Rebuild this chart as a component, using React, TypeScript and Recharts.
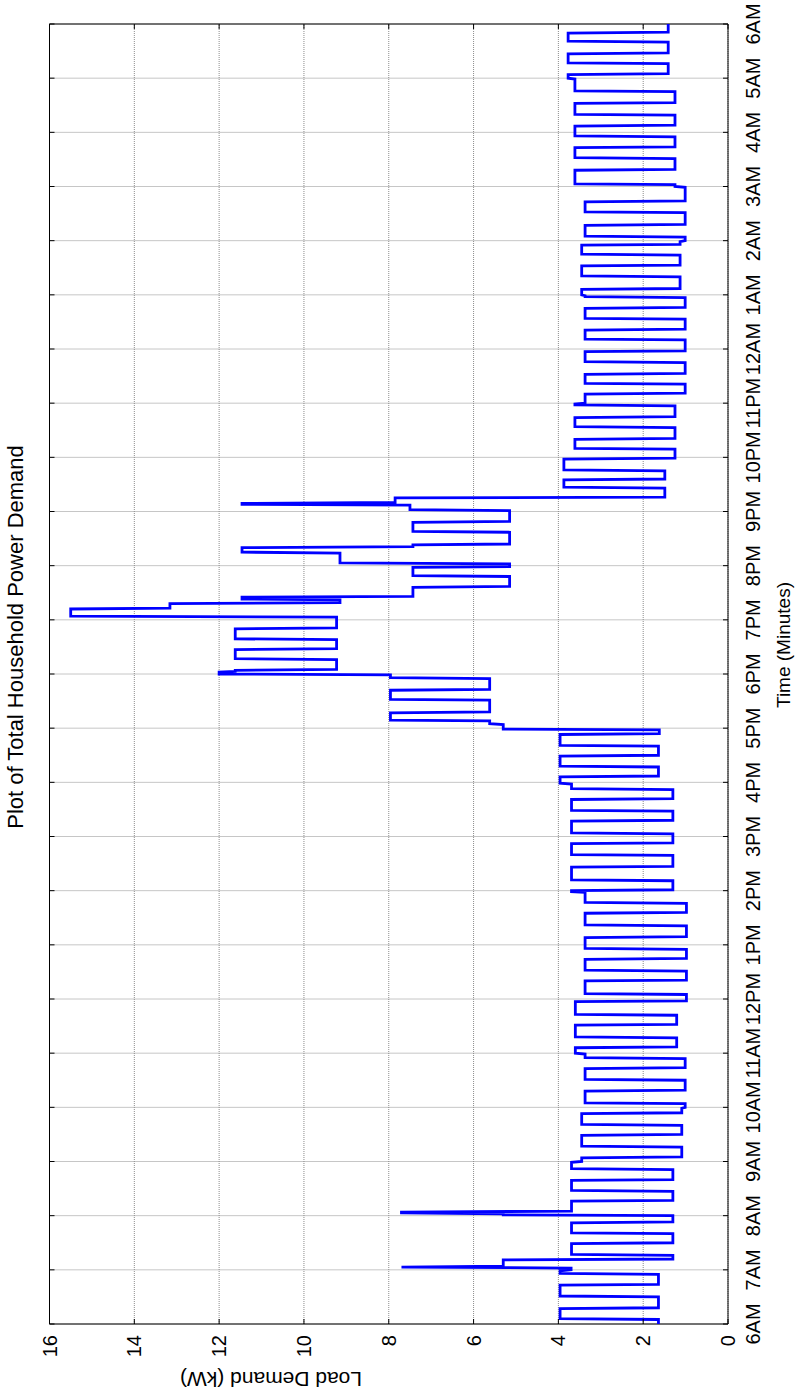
import React from 'react';
import { LineChart, Line, XAxis, YAxis, CartesianGrid, ReferenceArea } from 'recharts';

// Chart is laid out landscape (time across), then turned a quarter turn counter-clockwise.
const CHART_W = 1397;
const CHART_H = 798;
const PLOT_LEFT = 73;
const PLOT_RIGHT = 1373;
const PLOT_TOP = 49.5;
const PLOT_BOTTOM = 728;
const FONT = '"Liberation Sans", Arial, Helvetica, sans-serif';

const hourLabels = [
  '6AM', '7AM', '8AM', '9AM', '10AM', '11AM', '12PM', '1PM', '2PM', '3PM', '4PM', '5PM',
  '6PM', '7PM', '8PM', '9PM', '10PM', '11PM', '12AM', '1AM', '2AM', '3AM', '4AM', '5AM', '6AM',
];
const hourTicks = hourLabels.map((_, i) => i * 60);
const loadTicks = [0, 2, 4, 6, 8, 10, 12, 14, 16];

// Demand steps: minute (from 6AM) at which each level starts, and the level in kW.
const stepMinute = [
  0, 6, 18, 31, 44, 56, 60, 63, 64, 72, 77, 90, 101, 113, 121, 123, 125, 137, 148, 160,
  172, 180, 185, 197, 210, 221, 234, 240, 245, 259, 271, 284, 295, 300, 307, 318, 332, 343, 358, 366,
  381, 392, 405, 416, 429, 442, 456, 467, 479, 481, 492, 507, 520, 533, 544, 558, 569, 582, 593, 599,
  607, 618, 630, 641, 654, 659, 665, 669, 678, 692, 703, 716, 720, 723, 725, 737, 748, 759, 771, 784,
  793, 799, 803, 806, 817, 829, 839, 843, 855, 861, 864, 878, 889, 902, 908, 910, 916, 927, 936, 946,
  959, 970, 981, 994, 1005, 1018, 1020, 1031, 1042, 1053, 1066, 1078, 1091, 1102, 1114, 1126, 1138, 1140, 1147, 1161,
  1173, 1185, 1196, 1200, 1205, 1218, 1232, 1244, 1260, 1263, 1279, 1292, 1304, 1316, 1328, 1340, 1353, 1366, 1380, 1385,
  1397, 1408, 1421, 1431,
];
const stepLoad = [
  1.64, 3.96, 1.64, 3.96, 1.64, 3.96, 3.7, 7.7, 5.3, 1.3, 3.69, 1.3, 3.69, 1.3, 5.3, 7.7, 3.69, 1.3, 3.69, 1.3,
  3.69, 3.45, 1.09, 3.45, 1.09, 3.45, 1.09, 1.01, 3.37, 1.01, 3.37, 1.01, 3.37, 3.6, 1.21, 3.6, 1.21, 3.6, 0.98, 3.37,
  0.98, 3.37, 0.98, 3.37, 0.98, 3.37, 0.98, 3.37, 3.69, 1.3, 3.69, 1.3, 3.69, 1.3, 3.69, 1.3, 3.69, 1.3, 3.69, 3.96,
  1.64, 3.96, 1.64, 3.96, 1.62, 5.3, 5.62, 7.96, 5.62, 7.96, 5.62, 7.96, 12.0, 11.62, 9.23, 11.62, 9.23, 11.62, 9.23, 15.5,
  13.16, 9.15, 11.46, 7.43, 5.15, 7.43, 5.15, 9.15, 11.46, 7.43, 5.15, 7.43, 5.15, 7.5, 11.46, 7.85, 1.49, 3.87, 1.49, 3.87,
  1.25, 3.61, 1.25, 3.61, 1.25, 3.61, 3.37, 1.01, 3.37, 1.01, 3.37, 1.01, 3.37, 1.01, 3.37, 1.01, 3.37, 3.45, 1.13, 3.45,
  1.13, 3.45, 1.13, 1.01, 3.37, 1.01, 3.37, 1.01, 1.25, 3.61, 1.25, 3.61, 1.25, 3.61, 1.25, 3.61, 1.25, 3.61, 3.77, 1.41,
  3.77, 1.41, 3.77, 1.41,
];
const END_MINUTE = 1440;

// Each level is held until the minute before the next step starts.
const demand: { t: number; kw: number }[] = [];
stepMinute.forEach((start, i) => {
  const end = i < stepMinute.length - 1 ? stepMinute[i + 1] - 1 : END_MINUTE;
  demand.push({ t: start, kw: stepLoad[i] });
  if (end > start) demand.push({ t: end, kw: stepLoad[i] });
});

const TICK_LEN = 5;
const TICK_FONT = 20;

const HourTick = (props: any) => {
  const { x, index } = props;
  return (
    <g>
      <line x1={x} x2={x} y1={PLOT_BOTTOM} y2={PLOT_BOTTOM - TICK_LEN} stroke="#000" />
      <line x1={x} x2={x} y1={PLOT_TOP} y2={PLOT_TOP + TICK_LEN} stroke="#000" />
      <text x={x} y={760} textAnchor="middle" fontFamily={FONT} fontSize={TICK_FONT} fill="#000">
        {hourLabels[index]}
      </text>
    </g>
  );
};

const LoadTick = (props: any) => {
  const { y, payload } = props;
  return (
    <g>
      <line x1={PLOT_LEFT} x2={PLOT_LEFT + TICK_LEN} y1={y} y2={y} stroke="#000" />
      <line x1={PLOT_RIGHT} x2={PLOT_RIGHT - TICK_LEN} y1={y} y2={y} stroke="#000" />
      <text x={62} y={y + 7} textAnchor="end" fontFamily={FONT} fontSize={TICK_FONT} fill="#000">
        {payload.value}
      </text>
    </g>
  );
};

export default function App() {
  return (
    <div style={{ position: 'absolute', left: 0, top: 0, width: 798, height: 1397, overflow: 'hidden', background: '#fff' }}>
      <div
        style={{
          position: 'absolute',
          left: 0,
          top: 0,
          width: CHART_W,
          height: CHART_H,
          transform: `translate(0px, ${CHART_W}px) rotate(-90deg)`,
          transformOrigin: '0 0',
        }}
      >
        <LineChart
          width={CHART_W}
          height={CHART_H}
          data={demand}
          margin={{ top: PLOT_TOP, right: CHART_W - PLOT_RIGHT, bottom: 0, left: 0 }}
        >
          <CartesianGrid stroke="#8c8c8c" strokeDasharray="1 1" />
          <XAxis
            dataKey="t"
            type="number"
            domain={[0, END_MINUTE]}
            ticks={hourTicks}
            interval={0}
            height={CHART_H - PLOT_BOTTOM}
            axisLine={false}
            tickLine={false}
            tick={<HourTick />}
          />
          <YAxis
            type="number"
            domain={[0, 16]}
            ticks={loadTicks}
            interval={0}
            width={PLOT_LEFT}
            axisLine={false}
            tickLine={false}
            tick={<LoadTick />}
          />
          <Line
            dataKey="kw"
            type="linear"
            stroke="#0000ff"
            strokeWidth={2.8}
            dot={false}
            isAnimationActive={false}
          />
          <ReferenceArea x1={0} x2={END_MINUTE} y1={0} y2={16} fill="none" stroke="#000" strokeWidth={1} ifOverflow="visible" />
        </LineChart>
        <svg
          width={CHART_W}
          height={CHART_H}
          style={{ position: 'absolute', left: 0, top: 0, pointerEvents: 'none' }}
        >
          <text x={760} y={23} textAnchor="middle" fontFamily={FONT} fontSize={22} fill="#000">
            Plot of Total Household Power Demand
          </text>
          <text x={752} y={790} textAnchor="middle" fontFamily={FONT} fontSize={19} fill="#000">
            Time (Minutes)
          </text>
          <text
            x={0}
            y={0}
            transform={`translate(25, 271) rotate(-90)`}
            textAnchor="middle"
            fontFamily={FONT}
            fontSize={21}
            fill="#000"
          >
            Load Demand (kW)
          </text>
        </svg>
      </div>
    </div>
  );
}
